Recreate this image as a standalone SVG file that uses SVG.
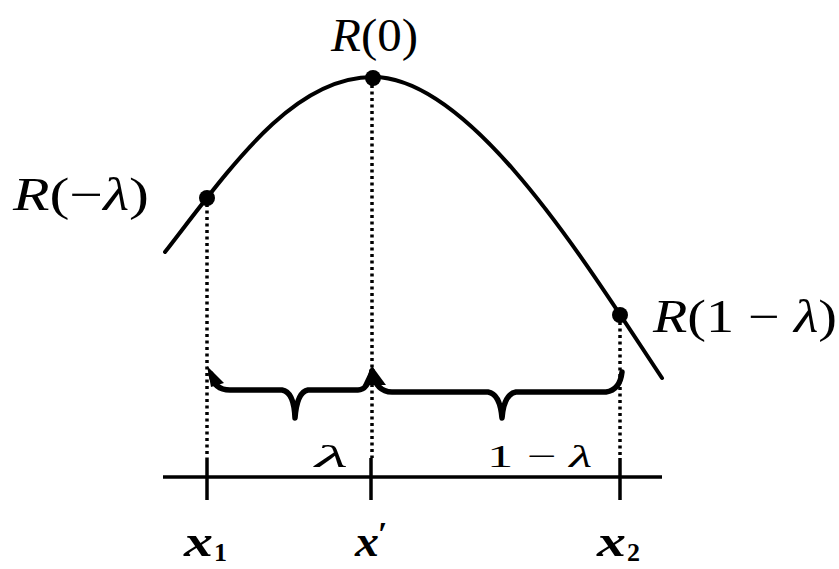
<svg xmlns="http://www.w3.org/2000/svg" width="839" height="569" viewBox="0 0 839 569">
<style>
  .curve { fill: none; stroke: #000; stroke-width: 4; stroke-linecap: round; }
  .dotted { fill: none; stroke: #000; stroke-width: 3.5; stroke-dasharray: 3 3.5; }
  .axis { fill: none; stroke: #000; stroke-width: 3.5; }
  .brace { fill: none; stroke: #000; stroke-width: 5.5; stroke-linejoin: round; stroke-linecap: round; }
  .pt { fill: #000; }
  .lbl { font-family: "Liberation Serif", "DejaVu Serif", serif; fill: #000; }
  .it { font-style: italic; }
</style>
<rect width="839" height="569" fill="#fff"/>
<g id="connectors">
  <path id="curve" class="curve" d="M165,252 C232.5,165 293,77 373,77 C473,77 589.85,269.8 662,378"/>
  <line class="dotted" x1="207" y1="204" x2="207" y2="458"/>
  <line class="dotted" x1="372" y1="85" x2="372" y2="458"/>
  <line class="dotted" x1="620" y1="322" x2="620" y2="458"/>
  <line class="axis" x1="163" y1="477" x2="662" y2="477"/>
  <line class="axis" x1="207" y1="458" x2="207" y2="500"/>
  <line class="axis" x1="371" y1="458" x2="371" y2="500"/>
  <line class="axis" x1="620" y1="458" x2="620" y2="500"/>
  <path class="brace" d="M211,374 Q214,390 230,390 L282,390 Q294,392 295,418 Q297,392 308,390 L358,390 Q368,390 372,371"/>
  <path class="brace" d="M372,371 Q376,392 392,392 L488,392 Q500,394 502,418 Q504,394 516,392 L606,392 Q620,390 622,372"/>
  <polygon class="pt" points="207,366 224,383 211,387"/>
  <polygon class="pt" points="372,366 386,385 363,385"/>
</g>
<g id="node-r-minus-lambda">
  <circle class="pt" cx="207" cy="198" r="8"/>
  <text class="lbl" x="13" y="210" font-size="46" textLength="136" lengthAdjust="spacingAndGlyphs"><tspan class="it">R</tspan>(−<tspan class="it">λ</tspan>)</text>
</g>
<g id="node-r0">
  <circle class="pt" cx="373" cy="78" r="8"/>
  <text class="lbl" x="331" y="51" font-size="46" textLength="87" lengthAdjust="spacingAndGlyphs"><tspan class="it">R</tspan>(0)</text>
</g>
<g id="node-r-one-minus-lambda">
  <circle class="pt" cx="620" cy="315" r="8"/>
  <text class="lbl" x="653" y="332" font-size="46" textLength="184" lengthAdjust="spacingAndGlyphs"><tspan class="it">R</tspan>(1 − <tspan class="it">λ</tspan>)</text>
</g>
<g id="label-lambda">
  <text class="lbl it" x="315" y="467" font-size="32" textLength="33" lengthAdjust="spacingAndGlyphs">λ</text>
</g>
<g id="label-one-minus-lambda">
  <text class="lbl" x="487" y="467" font-size="32" textLength="105" lengthAdjust="spacingAndGlyphs">1 − <tspan class="it">λ</tspan></text>
</g>
<g id="label-x1">
  <text class="lbl it" x="184" y="556" font-size="44" font-weight="bold" textLength="29" lengthAdjust="spacingAndGlyphs">x</text>
  <text class="lbl" x="214" y="561" font-size="26" font-weight="bold">1</text>
</g>
<g id="label-xprime">
  <text class="lbl it" x="355" y="556" font-size="44" font-weight="bold" textLength="24" lengthAdjust="spacingAndGlyphs">x</text>
  <text class="lbl" x="378" y="545" font-size="34" font-weight="bold">′</text>
</g>
<g id="label-x2">
  <text class="lbl it" x="597" y="556" font-size="44" font-weight="bold" textLength="29" lengthAdjust="spacingAndGlyphs">x</text>
  <text class="lbl" x="627" y="561" font-size="26" font-weight="bold">2</text>
</g>
</svg>
